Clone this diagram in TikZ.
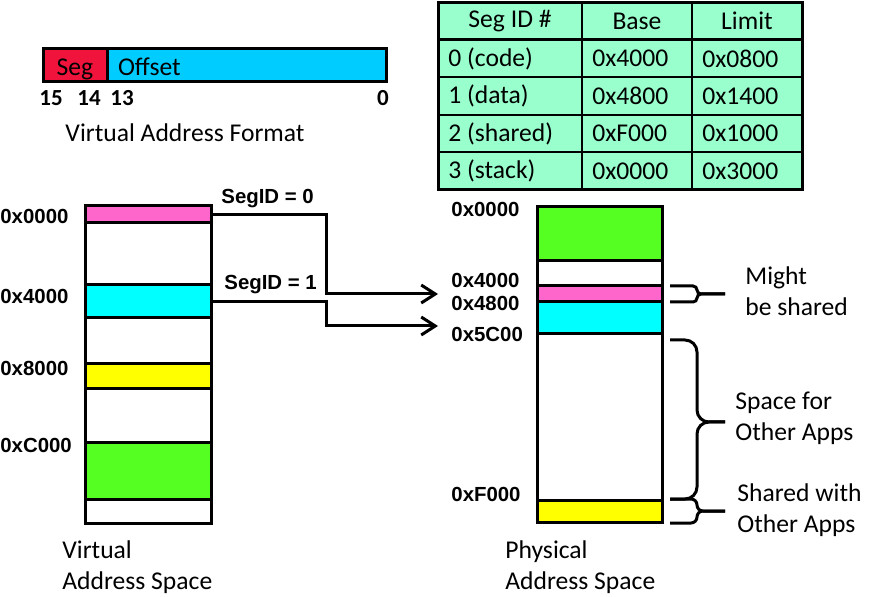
\documentclass[tikz,border=0pt]{standalone}
\usepackage{fontspec}
\setmainfont{Carlito}
\newfontfamily\addrfont{Liberation Sans}
\usetikzlibrary{positioning,arrows.meta}
\definecolor{segred}{HTML}{F0143C}
\definecolor{offblue}{HTML}{00CCFF}
\definecolor{codepink}{HTML}{FF66CC}
\definecolor{datacyan}{HTML}{00FFFF}
\definecolor{sharedyellow}{HTML}{FFFF00}
\definecolor{stackgreen}{HTML}{55FF22}
\definecolor{tablemint}{HTML}{99FFCC}

\begin{document}
\begin{tikzpicture}[
  x=0.5pt,y=-0.5pt,
  font=\fontsize{12.8}{15.5}\selectfont,
  segbox/.style={draw=black,line width=1.5pt,inner sep=0pt,minimum width=63pt},
  field/.style={draw,line width=1.5pt,minimum height=16.5pt,inner ysep=0pt,text height=2.2ex,text depth=0.2ex},
  addr/.style={font=\addrfont\bfseries\fontsize{10.2}{12}\selectfont,anchor=west,inner sep=0pt},
  bitno/.style={font=\bfseries\fontsize{11.5}{13}\selectfont,inner sep=0pt},
  cell/.style={anchor=west,inner sep=0pt},
  caption/.style={anchor=west,align=left,inner sep=0pt},
  maparrow/.style={line width=1.5pt,-{Straight Barb[length=7pt,width=9pt]}},
  bracket/.style={line width=1.5pt,rounded corners=2pt}
]
\useasboundingbox (0,0) rectangle (876,597);

% address format
\node[field,fill=segred,minimum width=32pt,inner xsep=0pt] (segfield) at (75,65.5) {Seg};
\node[field,fill=offblue,inner xsep=5.5pt,text width=128.5pt,align=left] (offfield) at (246.5,65.5) {Offset};
\node[bitno] (bit15) at (51,98) {15};
\node[bitno] (bit14) at (89,98) {14};
\node[bitno] (bit13) at (122,98) {13};
\node[bitno] (bit0) at (383,98) {0};
\node (fmtcap) at (185,133) {Virtual Address Format};

% segment table
\fill[tablemint] (438,3) rectangle (802,190);
\draw[line width=0.75pt] (582,3) -- (582,190) (692,3) -- (692,190)
  (438,77) -- (802,77) (438,115) -- (802,115) (438,152) -- (802,152);
\draw[line width=1.5pt] (438,40) -- (802,40);
\draw[line width=1.5pt] (438,3) rectangle (802,190);
\node (hdrid) at (510,21) {Seg ID \#};
\node (hdrbase) at (637,21) {Base};
\node (hdrlimit) at (747,21) {Limit};
\node[cell] (codeid) at (448,58.5) {0 (code)};
\node[cell] (codebase) at (592,58.5) {0x4000};
\node[cell] (codelimit) at (702,58.5) {0x0800};
\node[cell] (dataid) at (448,96) {1 (data)};
\node[cell] (database) at (592,96) {0x4800};
\node[cell] (datalimit) at (702,96) {0x1400};
\node[cell] (sharedid) at (448,133.5) {2 (shared)};
\node[cell] (sharedbase) at (592,133.5) {0xF000};
\node[cell] (sharedlimit) at (702,133.5) {0x1000};
\node[cell] (stackid) at (448,171) {3 (stack)};
\node[cell] (stackbase) at (592,171) {0x0000};
\node[cell] (stacklimit) at (702,171) {0x3000};

% virtual address space
\node[segbox,minimum height=158.5pt] (vspace) at (148,364.5) {};
\node[segbox,fill=codepink,minimum height=8.5pt] (vcode) at (148,214.5) {};
\node[segbox,fill=datacyan,minimum height=16.5pt] (vdata) at (148,301.5) {};
\node[segbox,fill=sharedyellow,minimum height=12.5pt] (vshared) at (148,376.5) {};
\node[segbox,fill=stackgreen,minimum height=28pt] (vstack) at (148,471) {};
\node[addr] (v0000) at (0,216) {0x0000};
\node[addr] (v4000) at (0,296) {0x4000};
\node[addr] (v8000) at (0,368) {0x8000};
\node[addr] (vC000) at (0,445) {0xC000};
\node[caption] (vcap) at (62,567.5) {Virtual\\Address Space};

% physical address space
\node[segbox,minimum width=62.5pt,minimum height=157.5pt] (pspace) at (599.5,364.5) {};
\node[segbox,minimum width=62.5pt,fill=stackgreen,minimum height=27pt] (pstack) at (599.5,234) {};
\node[segbox,minimum width=62.5pt,fill=codepink,minimum height=8pt] (pcode) at (599.5,294) {};
\node[segbox,minimum width=62.5pt,fill=datacyan,minimum height=16pt] (pdata) at (599.5,318) {};
\node[segbox,minimum width=62.5pt,fill=sharedyellow,minimum height=11pt] (pshared) at (599.5,511) {};
\node[addr] (p0000) at (451,209) {0x0000};
\node[addr] (p4000) at (451,280) {0x4000};
\node[addr] (p4800) at (451,303) {0x4800};
\node[addr] (p5C00) at (451,334) {0x5C00};
\node[addr] (pF000) at (451,494) {0xF000};
\node[caption] (pcap) at (505,567.5) {Physical\\Address Space};

% mapping
\coordinate (codetip) at (438,294);
\coordinate (datatip) at (438,326);
\draw[maparrow] (vcode.east) -- ++(114,0) |- (codetip);
\draw[maparrow] (vdata.east) -- ++(114,0) |- (datatip);
\node[addr] (segid0) at (221,199) {SegID = 0};
\node[addr] (segid1) at (224,285) {SegID = 1};

% braces
\draw[bracket] (670,286) -| (697,294) -- (725,294);
\draw[bracket] (670,302) -| (697,294) -- (725,294);
\draw[bracket,rounded corners=6pt] (670,340) -| (697,422) -- (725,422);
\draw[bracket,rounded corners=6pt] (670,499) -| (697,422) -- (725,422);
\draw[bracket,rounded corners=3pt] (670,499) -| (697,511) -- (725,511);
\draw[bracket,rounded corners=3pt] (670,523) -| (697,511) -- (725,511);
\node[caption] (mightshare) at (745,291.5) {Might\\be shared};
\node[caption] (otherspace) at (735,418.5) {Space for\\Other Apps};
\node[caption] (othershare) at (737,510.5) {Shared with\\Other Apps};
\end{tikzpicture}
\end{document}
